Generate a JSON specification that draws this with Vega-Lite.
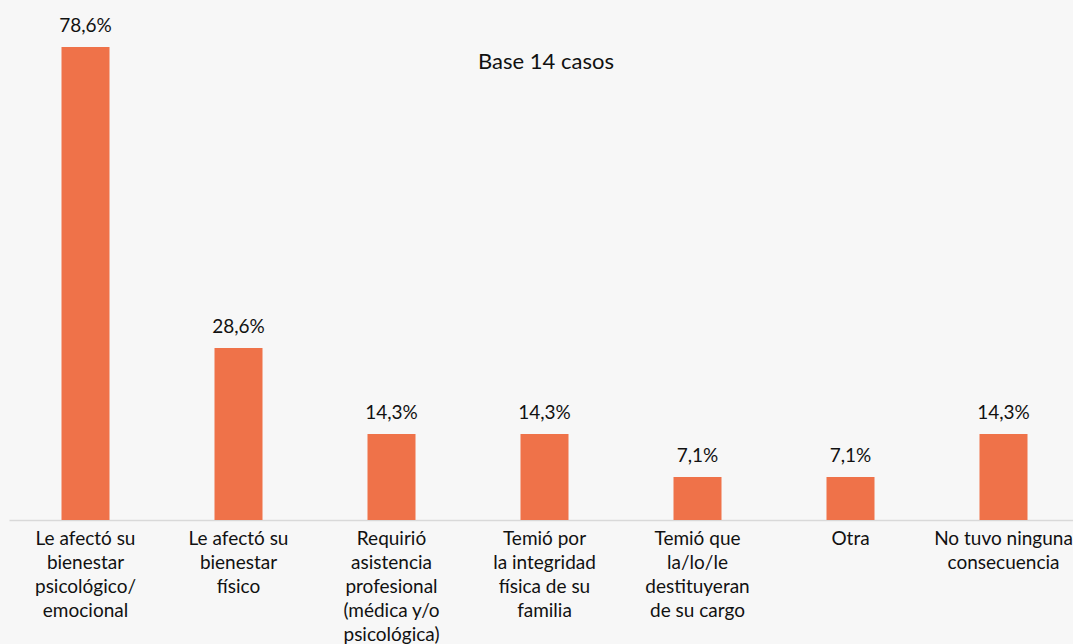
{
  "$schema": "https://vega.github.io/schema/vega-lite/v6.json",
  "autosize": {"type": "none"},
  "width": 1064,
  "height": 520,
  "padding": {"left": 9, "top": 0, "right": 0, "bottom": 124},
  "background": "#f7f7f7",
  "title": {
    "text": "Base 14 casos",
    "font": "Lato",
    "fontSize": 22,
    "fontWeight": "normal",
    "color": "#111111",
    "anchor": "middle",
    "offset": -74,
    "dx": 5
  },
  "data": {
    "values": [
      {"categoria": "Le afectó su|bienestar|psicológico/|emocional", "proporcion": 0.785714},
      {"categoria": "Le afectó su|bienestar|físico", "proporcion": 0.285714},
      {"categoria": "Requirió|asistencia|profesional|(médica y/o|psicológica)", "proporcion": 0.142857},
      {"categoria": "Temió por|la integridad|física de su|familia", "proporcion": 0.142857},
      {"categoria": "Temió que|la/lo/le|destituyeran|de su cargo", "proporcion": 0.071429},
      {"categoria": "Otra", "proporcion": 0.071429},
      {"categoria": "No tuvo ninguna|consecuencia", "proporcion": 0.142857}
    ]
  },
  "encoding": {
    "x": {
      "field": "categoria",
      "type": "nominal",
      "sort": null,
      "scale": {"range": [0, 1071], "paddingInner": 0, "paddingOuter": 0},
      "axis": {
        "title": null,
        "labelAngle": 0,
        "labelExpr": "split(datum.label, '|')",
        "labelFont": "Lato",
        "labelFontSize": 19,
        "labelColor": "#111111",
        "labelLineHeight": 24,
        "labelPadding": 9,
        "labelOverlap": false,
        "labelLimit": 300,
        "ticks": false,
        "domainColor": "#d9d9d9",
        "domainWidth": 1.5,
        "grid": false
      }
    },
    "y": {
      "field": "proporcion",
      "type": "quantitative",
      "scale": {"domain": [0, 0.864], "nice": false, "zero": true},
      "axis": null
    }
  },
  "layer": [
    {
      "mark": {"type": "bar", "size": 48, "color": "#ef7249"}
    },
    {
      "mark": {
        "type": "text",
        "baseline": "bottom",
        "dy": -11,
        "font": "Lato",
        "fontSize": 19,
        "color": "#111111"
      },
      "encoding": {
        "text": {"field": "proporcion", "type": "quantitative", "format": ".1%"}
      }
    }
  ],
  "config": {
    "view": {"stroke": null},
    "locale": {
      "number": {
        "decimal": ",",
        "thousands": ".",
        "grouping": [3],
        "currency": ["$", ""]
      }
    }
  }
}
